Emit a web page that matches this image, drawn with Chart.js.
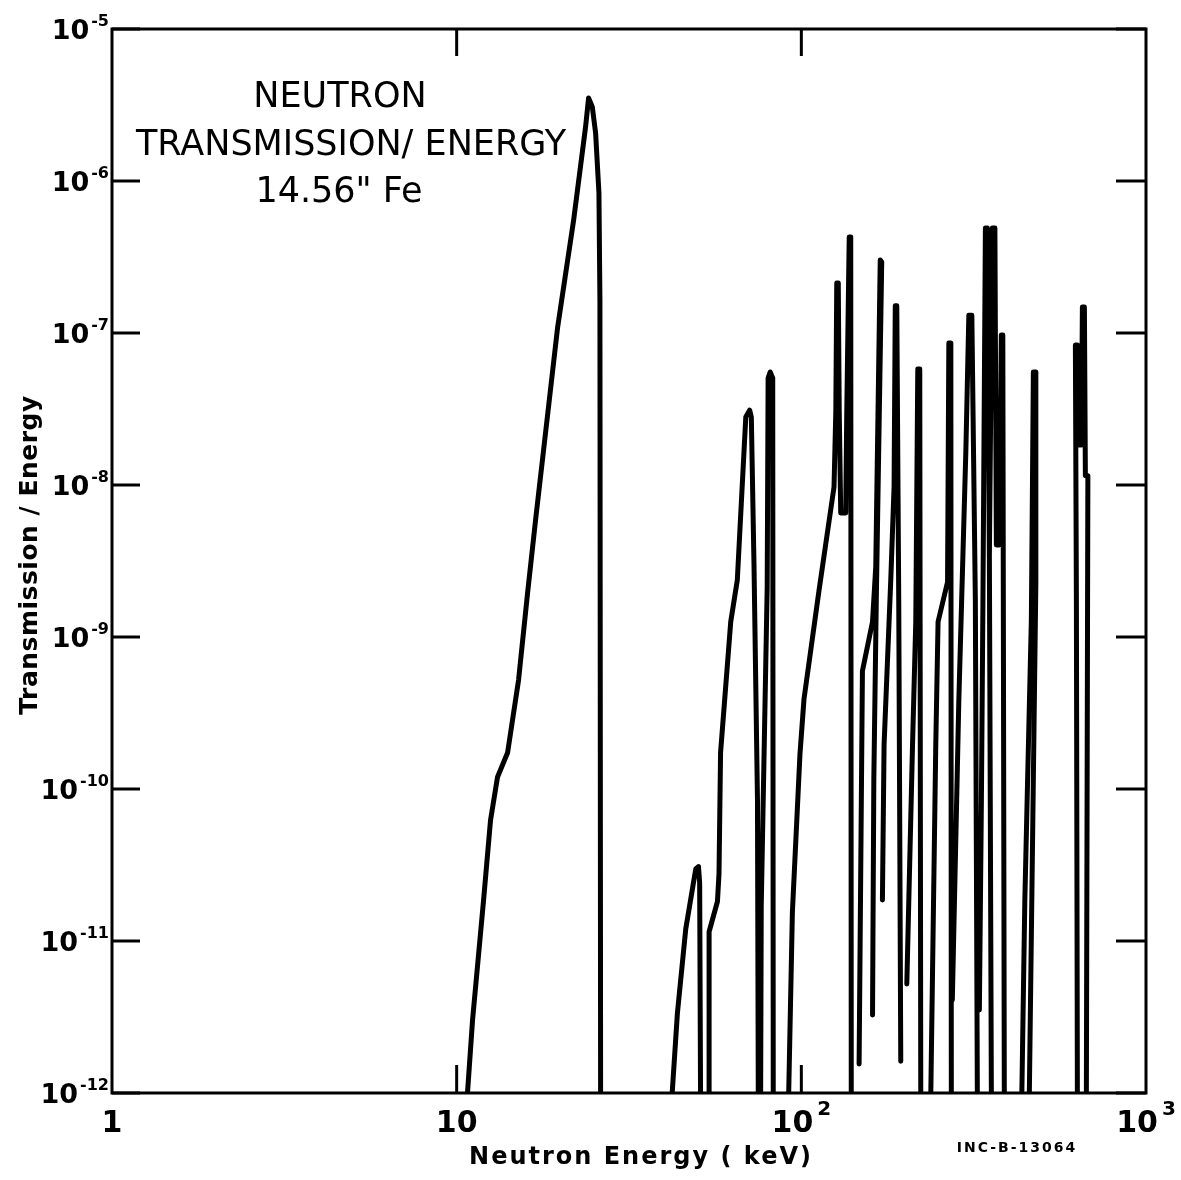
<!DOCTYPE html>
<html>
<head>
<meta charset="utf-8">
<script src="https://cdn.jsdelivr.net/npm/chart.js@4"></script>
<style>
  html, body { margin: 0; padding: 0; background: #fff; }
  canvas { display: block; }
</style>
</head>
<body>
<canvas id="fig" width="1181" height="1180"></canvas>
<script>
// neutron energy (keV) and transmission/energy
// null = pen lifted (new stroke)
const energy = [
  10.75, 11.12, 11.97, 12.54, 13.14, 14.05, 15.12, 16.06, 16.94, 19.63, 21.85, 23.66, 24.14, 24.75, 25.30, 25.87, 26.04, 26.16, null,
  42.2, 43.7, 46.2, 49.4, 50.3, 50.7, 51.0, null,
  54.0, 54.0, 57.1, 57.7, 58.3, 62.4, 65.2, 69.0, 70.8, 71.6, 72.9, 74.6, 75.0, null,
  76.2, 76.5, 79.6, 80.1, 81.2, 82.6, 82.9, null,
  91.9, 94.2, 99.1, 101.8, 112.6, 124.4, 125.9, 126.7, 128.0, 128.8, 130.1, 134.5, 135.4, 137.7, 139.1, 139.6, null,
  147.1, 150.4, 160.9, 164.4, 169.4, 171.1, 165.0, 162.3, 160.9, null,
  171.9, 173.8, 181.8, 185.8, 187.3, 189.2, 191.7, 194.3, null,
  202.3, 210.2, 214.8, 217.7, 220.6, 222.1, null,
  237.5, 245.5, 249.3, 265.6, 267.9, 271.5, 272.4, null,
  274.2, 286.4, 300.1, 306.2, 312.4, 319.8, 324.1, null,
  328.5, 333.0, 336.4, 342.0, 346.6, 351.2, 355.9, null,
  351.2, 358.3, 364.4, 368.0, 375.3, 380.4, 384.2, 388.1, null,
  436.3, 445.1, 454.1, 464.9, 471.2, 479.1, 479.1, 458.7, null,
  632.3, 628.1, 623.9, 632.3, 638.6, 649.4, 653.8, 662.6, 667.0, 678.2, 671.4
];
const transmission = [
  1e-12, 3.02e-12, 1.86e-11, 6.25e-11, 1.20e-10, 1.73e-10, 5.21e-10, 1.95e-9, 5.89e-9, 1.09e-7, 5.54e-7, 2.27e-6, 3.52e-6, 3.07e-6, 2.07e-6, 8.34e-7, 1.65e-7, 1e-12, null,
  1e-12, 3.36e-12, 1.2e-11, 2.98e-11, 3.09e-11, 2.41e-11, 1e-12, null,
  1e-12, 1.15e-11, 1.82e-11, 2.78e-11, 1.74e-10, 1.26e-9, 2.37e-9, 2.80e-8, 3.11e-8, 2.80e-8, 2.93e-9, 8.59e-11, 1e-12, null,
  1e-12, 1.70e-11, 2.10e-9, 5.06e-8, 5.54e-8, 5.06e-8, 1e-12, null,
  1e-12, 1.55e-11, 1.70e-10, 3.91e-10, 2.04e-9, 9.70e-9, 3.02e-8, 2.13e-7, 2.13e-7, 3.11e-8, 6.55e-9, 6.55e-9, 2.76e-8, 4.28e-7, 4.28e-7, 1e-12, null,
  1.55e-12, 5.97e-10, 1.26e-9, 2.89e-9, 3.02e-7, 2.93e-7, 1.75e-9, 1.15e-10, 3.26e-12, null,
  1.86e-11, 1.95e-10, 2.41e-9, 9.70e-9, 1.51e-7, 1.51e-7, 1.75e-9, 1.62e-12, null,
  5.21e-12, 1.95e-10, 1.26e-9, 5.80e-8, 5.80e-8, 1e-12, null,
  1e-12, 1.95e-10, 1.26e-9, 2.30e-9, 8.59e-8, 8.59e-8, 1e-12, null,
  4.09e-12, 3.85e-10, 1.65e-8, 1.31e-7, 1.31e-7, 1.75e-9, 1e-12, null,
  3.52e-12, 8.47e-11, 1.70e-9, 4.91e-7, 4.91e-7, 3.41e-9, 1e-12, null,
  3.41e-9, 4.91e-7, 4.91e-7, 4.03e-9, 4.03e-9, 9.70e-8, 9.70e-8, 1e-12, null,
  1e-12, 1.86e-11, 1.33e-10, 1.29e-9, 5.54e-8, 5.54e-8, 2.27e-9, 1e-12, null,
  1e-12, 1.75e-9, 8.34e-8, 8.34e-8, 1.83e-8, 1.83e-8, 1.48e-7, 1.48e-7, 1.15e-8, 1.15e-8, 1e-12
];

// axis ticks
const xTicks = [1, 10, 100, 1000];
const xTickBase = ['1', '10', '10', '10'];
const xTickExp = ['', '', '2', '3'];
const yTicks = [1e-5, 1e-6, 1e-7, 1e-8, 1e-9, 1e-10, 1e-11, 1e-12];
const yTickExp = ['-5', '-6', '-7', '-8', '-9', '-10', '-11', '-12'];
const innerTicksX = [10, 100];

const titleLines = ['NEUTRON', 'TRANSMISSION/ ENERGY', '14.56" Fe'];

const points = energy.map((e, i) => ({ x: e, y: transmission[i] }));

function seg(ctx, x1, y1, x2, y2) {
  ctx.beginPath();
  ctx.moveTo(x1, y1);
  ctx.lineTo(x2, y2);
  ctx.stroke();
}

const frame = {
  id: 'frame',
  afterDraw(chart) {
    const { ctx, chartArea: a } = chart;
    const xs = chart.scales.x, ys = chart.scales.y;
    ctx.save();
    ctx.strokeStyle = '#000';
    ctx.fillStyle = '#000';
    ctx.lineWidth = 3;
    ctx.strokeRect(a.left, a.top, a.right - a.left, a.bottom - a.top);

    // inward tick marks
    yTicks.forEach(v => {
      const py = ys.getPixelForValue(v);
      seg(ctx, a.left, py, a.left + 28, py);
      seg(ctx, a.right - 30, py, a.right, py);
    });
    innerTicksX.forEach(v => {
      const px = xs.getPixelForValue(v);
      seg(ctx, px, a.top, px, a.top + 27);
      seg(ctx, px, a.bottom, px, a.bottom - 28);
    });

    // y tick labels
    ctx.textBaseline = 'alphabetic';
    ctx.textAlign = 'left';
    yTicks.forEach((v, i) => {
      const py = ys.getPixelForValue(v);
      ctx.font = 'bold 16px "DejaVu Sans"';
      const we = ctx.measureText(yTickExp[i]).width;
      ctx.font = 'bold 27px "DejaVu Sans"';
      const wb = ctx.measureText('10').width;
      const right = a.left - 3;
      ctx.fillText('10', right - we - 2 - wb, py + 10);
      ctx.font = 'bold 16px "DejaVu Sans"';
      ctx.fillText(yTickExp[i], right - we, py - 3);
    });

    // x tick labels
    xTicks.forEach((v, i) => {
      const px = xs.getPixelForValue(v);
      ctx.font = 'bold 30px "DejaVu Sans"';
      const wb = ctx.measureText(xTickBase[i]).width;
      ctx.font = 'bold 20px "DejaVu Sans"';
      const we = xTickExp[i] ? ctx.measureText(xTickExp[i]).width + 4 : 0;
      const left = px - (wb + we) / 2;
      ctx.font = 'bold 30px "DejaVu Sans"';
      ctx.fillText(xTickBase[i], left, a.bottom + 39);
      if (xTickExp[i]) {
        ctx.font = 'bold 20px "DejaVu Sans"';
        ctx.fillText(xTickExp[i], left + wb + 4, a.bottom + 22);
      }
    });

    // axis titles
    ctx.textAlign = 'center';
    ctx.textBaseline = 'middle';
    ctx.font = 'bold 24px "DejaVu Sans"';
    ctx.letterSpacing = '2px';
    ctx.fillText('Neutron Energy ( keV)', 641, a.bottom + 65);
    ctx.font = 'bold 14px "DejaVu Sans"';
    ctx.letterSpacing = '2px';
    ctx.fillText('INC-B-13064', 1017, a.bottom + 55);
    ctx.letterSpacing = '0.5px';
    ctx.save();
    ctx.translate(30, 555);
    ctx.rotate(-Math.PI / 2);
    ctx.font = 'bold 25px "DejaVu Sans"';
    ctx.fillText('Transmission / Energy', 0, 0);
    ctx.restore();
    ctx.letterSpacing = '0px';

    // figure title inside the plot
    ctx.font = '35px "DejaVu Sans"';
    ctx.fillText(titleLines[0], 340, 98);
    ctx.fillText(titleLines[1], 351, 146);
    ctx.fillText(titleLines[2], 339, 193);
    ctx.restore();
  }
};

new Chart(document.getElementById('fig'), {
  type: 'scatter',
  data: {
    datasets: [{
      data: points,
      showLine: true,
      spanGaps: false,
      borderColor: '#000',
      borderWidth: 5,
      borderJoinStyle: 'round',
      borderCapStyle: 'round',
      pointRadius: 0,
      tension: 0
    }]
  },
  options: {
    responsive: false,
    animation: false,
    layout: { padding: { left: 112, top: 29, right: 35, bottom: 87 } },
    scales: {
      x: { type: 'logarithmic', min: 1, max: 1000, display: false },
      y: { type: 'logarithmic', min: 1e-12, max: 1e-5, display: false }
    },
    plugins: {
      legend: { display: false },
      tooltip: { enabled: false }
    }
  },
  plugins: [frame]
});
</script>
</body>
</html>
